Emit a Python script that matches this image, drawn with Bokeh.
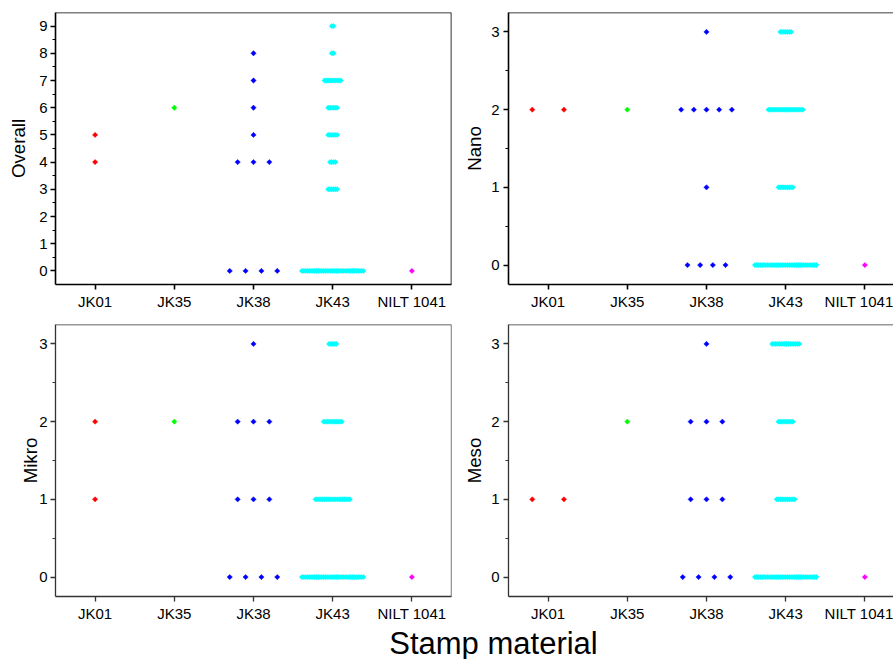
import numpy as np
from bokeh.plotting import figure
from bokeh.models import FixedTicker, Range1d, Span
from bokeh.layouts import column, row
from bokeh.embed import file_html
from bokeh.resources import INLINE

# Stamp materials on the x axis and the colour used for each
categories = ["JK01", "JK35", "JK38", "JK43", "NILT 1041"]
colors = ["#FF0000", "#00FF00", "#0000FF", "#00FFFF", "#FF00FF"]

# Score levels of each rating
overall_scores = [0, 1, 2, 3, 4, 5, 6, 7, 8, 9]
part_scores = [0, 1, 2, 3]

# Number of samples per score level (one row per material, in category order)
overall_counts = [
    [0, 0, 0, 0, 1, 1, 0, 0, 0, 0],
    [0, 0, 0, 0, 0, 0, 1, 0, 0, 0],
    [4, 0, 0, 0, 3, 1, 1, 1, 1, 0],
    [35, 0, 0, 6, 4, 6, 6, 10, 2, 2],
    [1, 0, 0, 0, 0, 0, 0, 0, 0, 0],
]
nano_counts = [
    [0, 0, 2, 0],
    [0, 0, 1, 0],
    [4, 1, 5, 1],
    [35, 9, 20, 7],
    [1, 0, 0, 0],
]
mikro_counts = [
    [0, 1, 1, 0],
    [0, 0, 1, 0],
    [4, 3, 3, 1],
    [35, 20, 11, 5],
    [1, 0, 0, 0],
]
meso_counts = [
    [0, 2, 0, 0],
    [0, 0, 1, 0],
    [4, 3, 3, 1],
    [35, 11, 9, 16],
    [1, 0, 0, 0],
]

FONT = "Liberation Sans"
SPREAD = 0.8  # width (category units) taken by the fullest row of a column


def swarm(scores, counts, center):
    """Spread the points of each score row side by side around the category."""
    step = SPREAD / max(counts)
    xs, ys = [], []
    for s, n in zip(scores, counts):
        for i in range(n):
            xs.append(center + (i - (n - 1) / 2) * step)
            ys.append(s)
    return xs, ys


def panel(ylabel, scores, counts, y_pad, width, x_end, border_left, border_right,
          border_top, label_standoff, tick_standoff, frame_color, frame_width,
          right_edge=True):
    y_lo, y_hi = scores[0] - y_pad, scores[-1] + y_pad
    p = figure(width=width, height=312, output_backend="svg", toolbar_location=None,
               x_range=Range1d(0.5, x_end), y_range=Range1d(y_lo, y_hi),
               min_border_left=border_left, min_border_right=border_right,
               min_border_top=border_top, min_border_bottom=27)
    p.outline_line_color = None
    p.grid.visible = False
    p.background_fill_color = "white"
    p.border_fill_color = "white"

    for k, (cat_counts, col) in enumerate(zip(counts, colors)):
        xs, ys = swarm(scores, cat_counts, k + 1)
        p.scatter(xs, ys, marker="square", angle=np.pi / 4, size=3.8,
                  fill_color=col, line_color=col, line_width=0.4)

    xa = p.xaxis[0]
    xa.ticker = FixedTicker(ticks=list(range(1, len(categories) + 1)), minor_ticks=[])
    xa.major_label_overrides = {i + 1: c for i, c in enumerate(categories)}
    ya = p.yaxis[0]
    ya.ticker = FixedTicker(ticks=scores,
                            minor_ticks=[s + 0.5 for s in scores[:-1]])
    ya.axis_label = ylabel
    ya.axis_label_standoff = label_standoff
    ya.axis_label_text_font = FONT
    ya.axis_label_text_font_size = "18.7px"
    ya.axis_label_text_font_style = "normal"
    ya.axis_label_text_color = "black"
    ya.major_label_standoff = tick_standoff
    xa.major_label_standoff = 3
    for ax in (xa, ya):
        ax.major_label_text_font = FONT
        ax.major_label_text_font_size = "15px"
        ax.major_label_text_color = "black"
        ax.axis_line_color = frame_color
        ax.axis_line_width = frame_width
        ax.major_tick_line_color = frame_color
        ax.major_tick_line_width = frame_width
        ax.minor_tick_line_color = frame_color
        ax.minor_tick_line_width = 1
        ax.major_tick_in = 0
        ax.major_tick_out = 5
        ax.minor_tick_in = 0
        ax.minor_tick_out = 3
    xa.minor_tick_out = 0

    p.add_layout(Span(location=y_hi, dimension="width",
                      line_color=frame_color, line_width=frame_width))
    if right_edge:
        p.add_layout(Span(location=x_end, dimension="height",
                          line_color=frame_color, line_width=frame_width))
    return p


PX_PER_CAT = 79.2
right_x_end = 0.5 + 385 / PX_PER_CAT

p_overall = panel("Overall", overall_scores, overall_counts, 0.5, 460, 5.5,
                  55, 9, 12, 7, 3, "black", 1.6)
p_nano = panel("Nano", part_scores, nano_counts, 0.25, 433, right_x_end,
               48, 0, 12, 3, 4, "black", 1.6, right_edge=False)
p_mikro = panel("Mikro", part_scores, mikro_counts, 0.25, 460, 5.5,
                55, 9, 12, -5, 3, "#333333", 1.3)
p_meso = panel("Meso", part_scores, meso_counts, 0.25, 433, right_x_end,
               48, 0, 12, 3, 4, "#333333", 1.3, right_edge=False)

# Shared x axis title under both bottom panels
p_title = figure(width=893, height=35, output_backend="svg", toolbar_location=None,
                 x_range=Range1d(0, 893), y_range=Range1d(0, 35),
                 x_axis_location=None, y_axis_location=None,
                 min_border=0, title=None)
p_title.outline_line_color = None
p_title.grid.visible = False
p_title.text(x=[493], y=[16], text=["Stamp material"], text_align="center",
             text_baseline="middle", text_font_size="31px",
             text_font={"value": FONT}, text_color="black")

layout = column(row(p_overall, p_nano, spacing=0),
                row(p_mikro, p_meso, spacing=0),
                p_title, spacing=0)

open("out.html", "w").write(file_html(layout, INLINE))
